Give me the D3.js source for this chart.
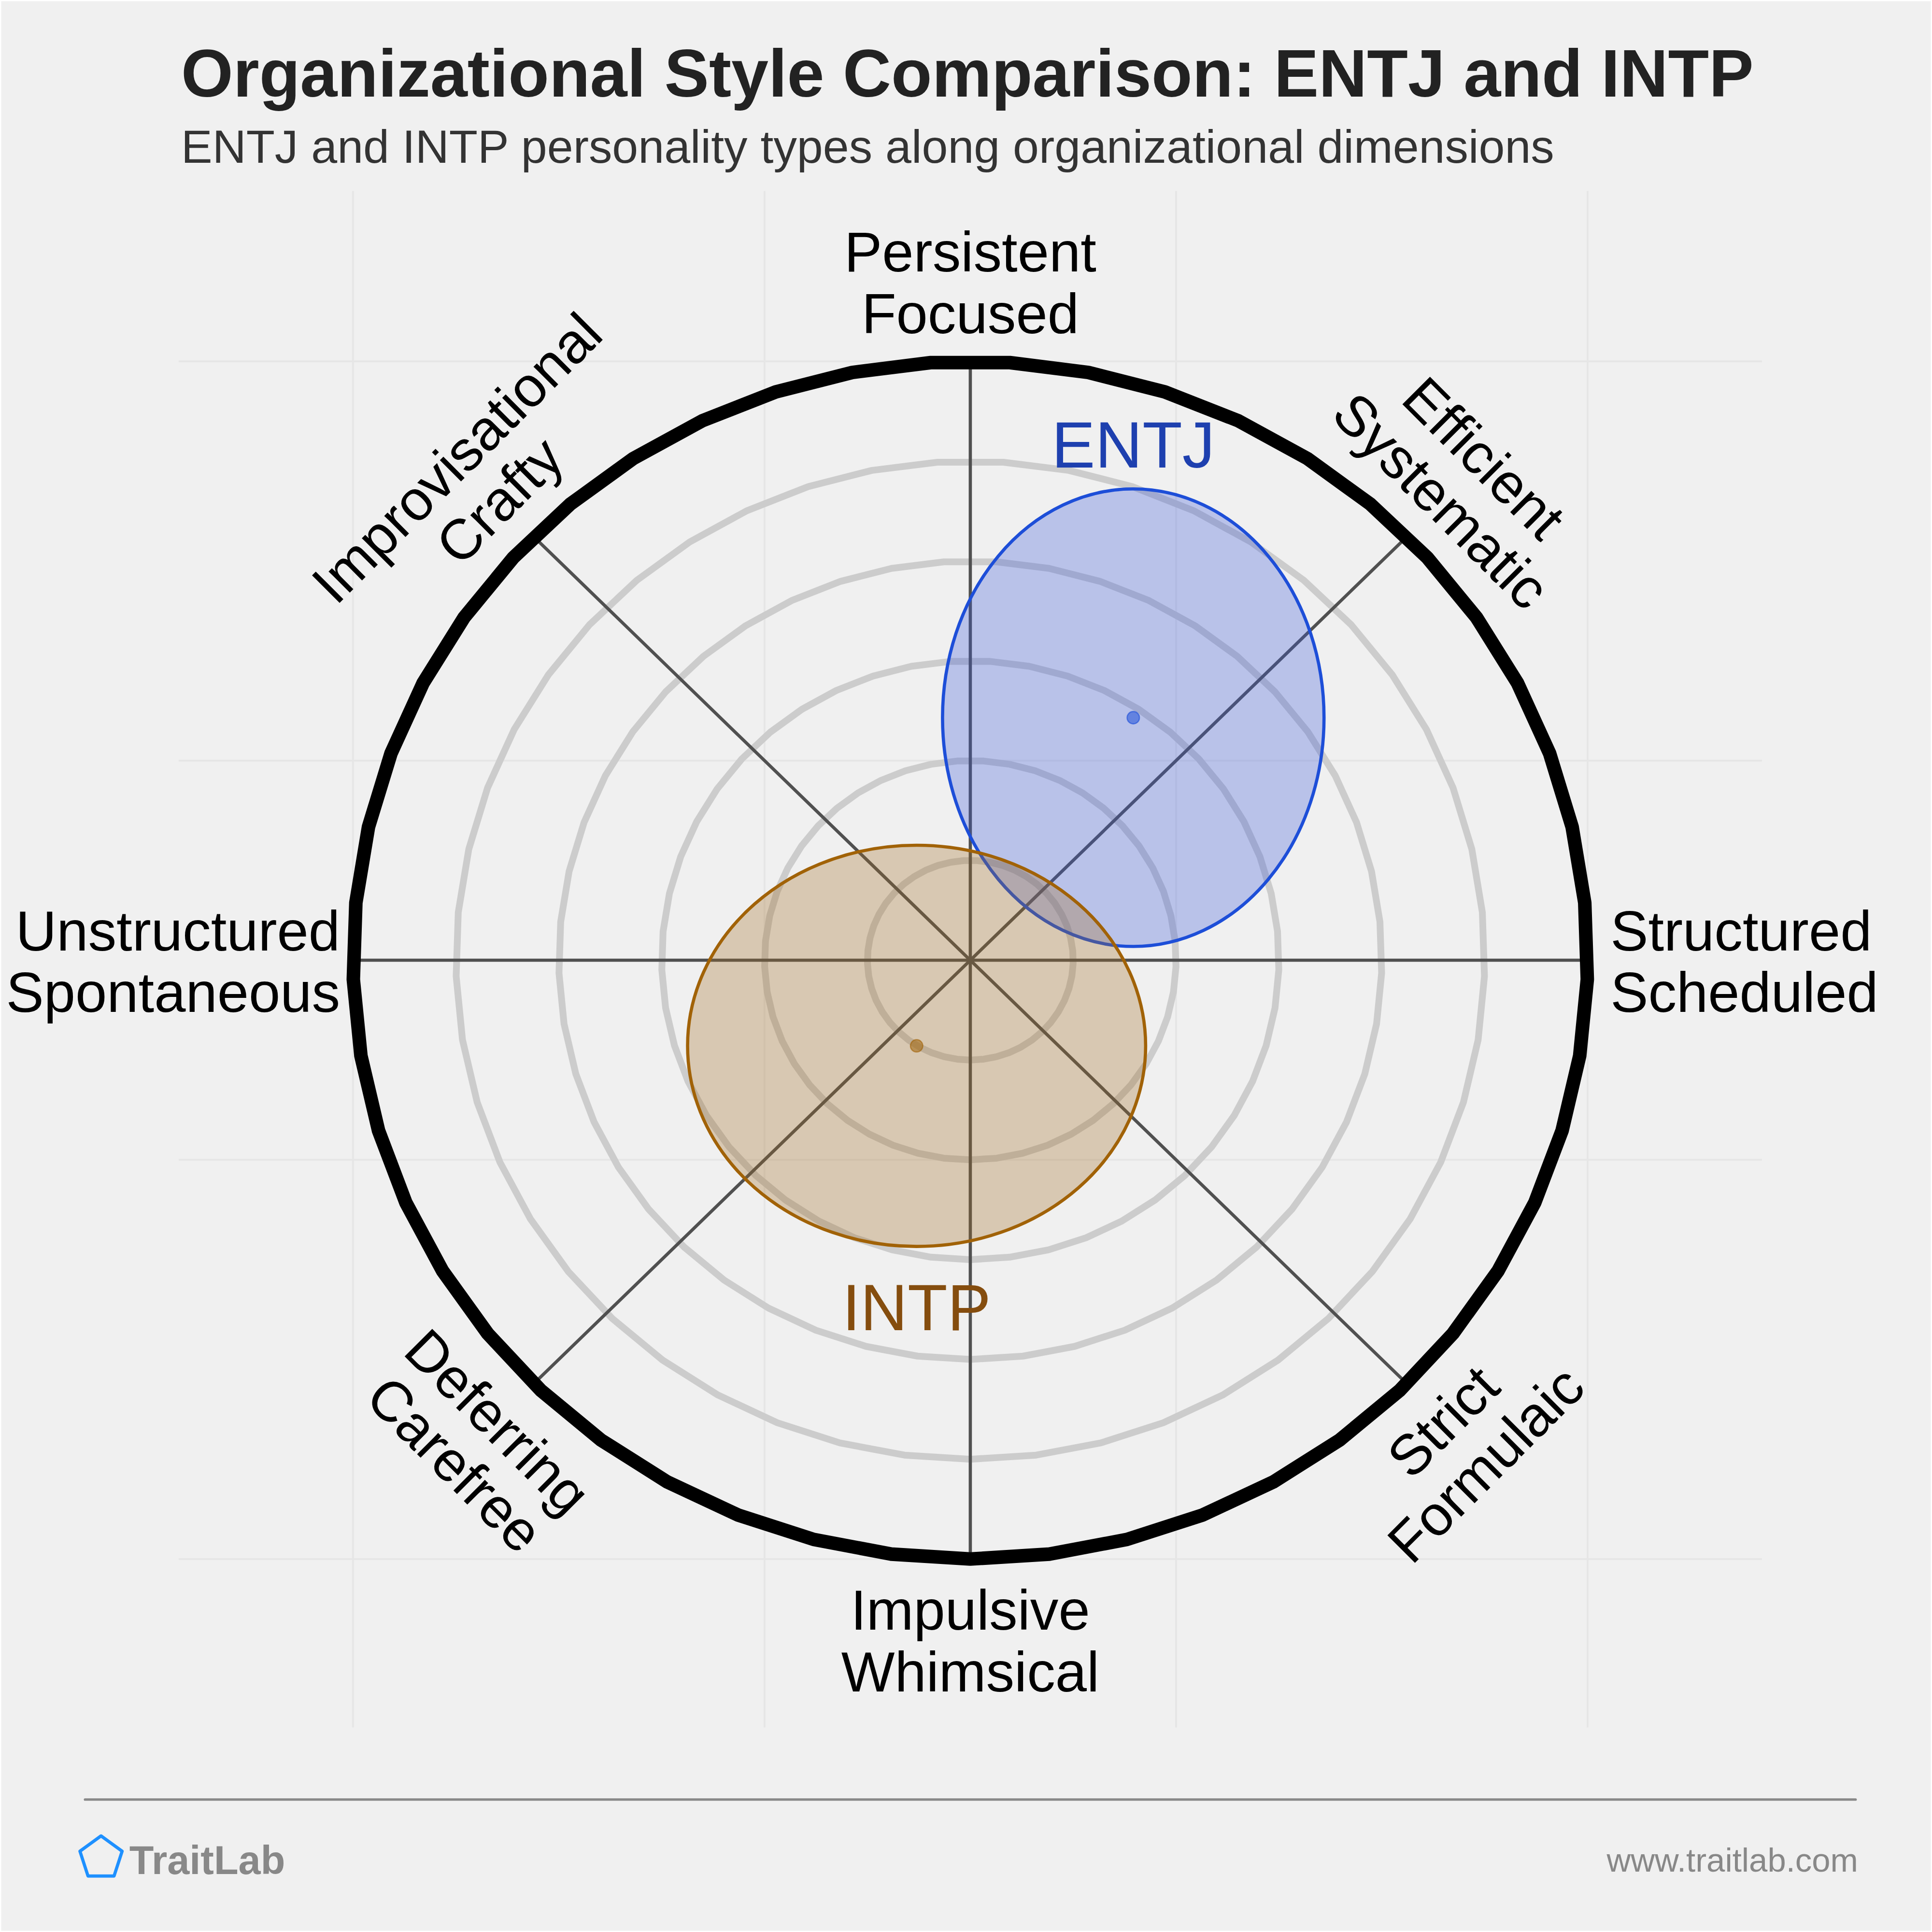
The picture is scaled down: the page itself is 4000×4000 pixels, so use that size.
<!DOCTYPE html>
<html><head><meta charset="utf-8">
<script src="https://cdn.jsdelivr.net/npm/d3@7"></script>
<style>html,body{margin:0;padding:0;background:#ffffff;} svg{display:block;}</style>
</head><body>
<svg id="chart" width="4000" height="4000" viewBox="0 0 1568 1568"></svg>
<script>
// ---------------- data ----------------
const titleText = "Organizational Style Comparison: ENTJ and INTP";
const subtitleText = "ENTJ and INTP personality types along organizational dimensions";
const axisAngles = [90, 45, 0, -45, -90, -135, 180, 135];
const axisLabels = [
  ["Persistent", "Focused"],
  ["Efficient", "Systematic"],
  ["Structured", "Scheduled"],
  ["Strict", "Formulaic"],
  ["Impulsive", "Whimsical"],
  ["Deferring", "Carefree"],
  ["Unstructured", "Spontaneous"],
  ["Improvisational", "Crafty"]
];
const ringLevels = [1/6, 2/6, 3/6, 4/6, 5/6];
const outerLevel = 1;
const gridTicks = [-1, -1/3, 1/3, 1];
const typeNames = ["ENTJ", "INTP"];
const typeX = [0.264, -0.087];
const typeY = [0.405, -0.143];
const typeSpreadX = [0.309, 0.371];
const typeSpreadY = [0.382, 0.335];
const typeLabelSide = ["above", "below"];
const typeStroke = ["#1d4ed8", "#a16207"];
const typeFill = ["rgba(59,89,219,0.30)", "rgba(163,108,35,0.30)"];
const typeText = ["#1e40af", "#854d0e"];
const brandName = "TraitLab";
const siteName = "www.traitlab.com";

// ---------------- layout ----------------
const FONT = "'Liberation Sans', Arial, Helvetica, sans-serif";
const svg = d3.select("#chart");
svg.append("rect").attr("x", 1).attr("y", 1).attr("width", 1566).attr("height", 1566).attr("fill", "#f0f0f0");

const x = d3.scaleLinear().domain([-1, 1]).range([286.5, 1288.5]);
const y = d3.scaleLinear().domain([-1, 1]).range([1265.3, 293.3]);
const cx = x(0), cy = y(0);
const plot = {x0: 145, x1: 1430, y0: 155, y1: 1402};

// faint cartesian grid
const grid = svg.append("g");
grid.selectAll("line.gx").data(gridTicks).join("line")
  .attr("x1", d => x(d)).attr("x2", d => x(d))
  .attr("y1", plot.y0).attr("y2", plot.y1)
  .attr("stroke", "#e6e6e6").attr("stroke-width", 1.5);
grid.selectAll("line.gy").data(gridTicks).join("line")
  .attr("y1", d => y(d)).attr("y2", d => y(d))
  .attr("x1", plot.x0).attr("x2", plot.x1)
  .attr("stroke", "#e6e6e6").attr("stroke-width", 1.5);

// polygonal rings
const NSIDES = 49;
const ringLine = d3.line().curve(d3.curveLinearClosed);
function ringPoints(level) {
  return d3.range(NSIDES).map(i => {
    const a = (-90 + i * 360 / NSIDES) * Math.PI / 180;
    return [x(level * Math.cos(a)), y(level * Math.sin(a))];
  });
}
svg.append("g").selectAll("path").data(ringLevels).join("path")
  .attr("d", d => ringLine(ringPoints(d)))
  .attr("fill", "none").attr("stroke", "#cccccc").attr("stroke-width", 5.5)
  .attr("stroke-linejoin", "round");

// spokes
svg.append("g").selectAll("line").data(axisAngles).join("line")
  .attr("x1", cx).attr("y1", cy)
  .attr("x2", d => x(outerLevel * Math.cos(d * Math.PI / 180)))
  .attr("y2", d => y(outerLevel * Math.sin(d * Math.PI / 180)))
  .attr("stroke", "#505050").attr("stroke-width", 2.6);

// outer ring
svg.append("path").attr("d", ringLine(ringPoints(outerLevel)))
  .attr("fill", "none").attr("stroke", "#000000").attr("stroke-width", 11)
  .attr("stroke-linejoin", "round");

// type ellipses
const types = typeNames.map((n, i) => ({name: n, cx: typeX[i], cy: typeY[i], rx: typeSpreadX[i], ry: typeSpreadY[i],
  side: typeLabelSide[i], stroke: typeStroke[i], fill: typeFill[i], text: typeText[i]}));
const tg = svg.append("g");
tg.selectAll("ellipse").data(types).join("ellipse")
  .attr("cx", d => x(d.cx)).attr("cy", d => y(d.cy))
  .attr("rx", d => x(d.rx) - x(0)).attr("ry", d => y(0) - y(d.ry))
  .attr("fill", d => d.fill).attr("stroke", d => d.stroke).attr("stroke-width", 2.6);
tg.selectAll("circle").data(types).join("circle")
  .attr("cx", d => x(d.cx)).attr("cy", d => y(d.cy)).attr("r", 5)
  .attr("fill", d => d.stroke).attr("fill-opacity", 0.55)
  .attr("stroke", d => d.stroke).attr("stroke-opacity", 0.6).attr("stroke-width", 1);
tg.selectAll("text").data(types).join("text")
  .attr("x", d => x(d.cx))
  .attr("y", d => d.side === "above" ? y(d.cy + d.ry) - 17.5 : y(d.cy - d.ry) + 68)
  .attr("text-anchor", "middle").attr("font-family", FONT).attr("font-size", 53)
  .attr("fill", d => d.text).text(d => d.name);

// axis labels
const LFS = 46, LH = 50, DLH = 49;
const lg = svg.append("g").attr("font-family", FONT).attr("font-size", LFS).attr("fill", "#000");
axisAngles.forEach((ang, k) => {
  const lines = axisLabels[k];
  const rad = ang * Math.PI / 180;
  const g = lg.append("g");
  if (ang === 90) {
    lines.forEach((t, i) => g.append("text").attr("x", cx).attr("y", cy - 509 - (lines.length - 1 - i) * LH)
      .attr("text-anchor", "middle").text(t));
  } else if (ang === -90) {
    lines.forEach((t, i) => g.append("text").attr("x", cx).attr("y", cy + 543.5 + i * LH)
      .attr("text-anchor", "middle").text(t));
  } else if (ang === 0) {
    lines.forEach((t, i) => g.append("text").attr("x", cx + 519.5).attr("y", cy - 8 + i * LH)
      .attr("text-anchor", "start").text(t));
  } else if (ang === 180) {
    lines.forEach((t, i) => g.append("text").attr("x", cx - 511.5).attr("y", cy - 8 + i * LH)
      .attr("text-anchor", "end").text(t));
  } else {
    const upper = ang > 0;
    const D = upper ? 518 : 552;
    const rot = upper ? 90 - ang : -90 - ang;
    const shift = 6.5 * Math.sign(Math.cos(rad));
    g.attr("transform", `translate(${cx + D * Math.cos(rad)},${cy - D * Math.sin(rad)}) rotate(${rot})`);
    lines.forEach((t, i) => g.append("text").attr("x", shift)
      .attr("y", upper ? -(lines.length - 1 - i) * DLH : i * DLH)
      .attr("text-anchor", "middle").text(t));
  }
});

// title & subtitle
svg.append("text").attr("x", 147).attr("y", 78.5).attr("font-family", FONT)
  .attr("font-size", 54.3).attr("font-weight", "bold").attr("fill", "#222222").text(titleText);
svg.append("text").attr("x", 147).attr("y", 132).attr("font-family", FONT)
  .attr("font-size", 38).attr("fill", "#333333").text(subtitleText);

// footer
svg.append("line").attr("x1", 69).attr("x2", 1506).attr("y1", 1460.5).attr("y2", 1460.5)
  .attr("stroke", "#888888").attr("stroke-width", 2).attr("stroke-linecap", "round");
const pent = d3.range(5).map(i => {
  const a = (-90 + i * 72) * Math.PI / 180;
  return [82 + 18 * Math.cos(a), 1508 + 18 * Math.sin(a)];
});
svg.append("path").attr("d", d3.line().curve(d3.curveLinearClosed)(pent))
  .attr("fill", "none").attr("stroke", "#1e90ff").attr("stroke-width", 2.6).attr("stroke-linejoin", "round");
svg.append("text").attr("x", 105).attr("y", 1521).attr("font-family", FONT).attr("font-size", 32.5)
  .attr("font-weight", "bold").attr("fill", "#888888").text(brandName);
svg.append("text").attr("x", 1508).attr("y", 1519).attr("font-family", FONT).attr("font-size", 27)
  .attr("text-anchor", "end").attr("fill", "#888888").text(siteName);
</script>
</body></html>
